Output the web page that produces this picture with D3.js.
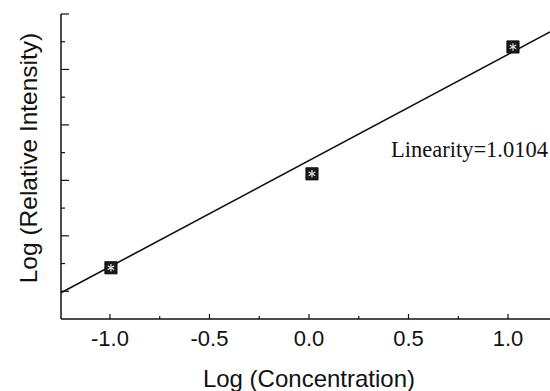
<!DOCTYPE html>
<html>
<head>
<meta charset="utf-8">
<script src="https://cdn.jsdelivr.net/npm/d3@7"></script>
<style>
  html, body { margin: 0; padding: 0; background: #fff; }
  svg { display: block; }
</style>
</head>
<body>
<script>
// ---- data ----
const pointX = [-0.995, 0.015, 1.025];        // Log (Concentration)
const pointY = [-0.288, 0.559, 1.703];        // Log (Relative Intensity)
const fitX = [-1.246, 1.211];                 // fitted line ends
const fitY = [-0.514, 1.838];
const xMajorTicks = [-1.0, -0.5, 0.0, 0.5, 1.0];
const xTickLabels = ["-1.0", "-0.5", "0.0", "0.5", "1.0"];
const xMinorTicks = [-0.75, -0.25, 0.25, 0.75];
const yMajorTicks = [-0.5, 0.0, 0.5, 1.0, 1.5, 2.0];
const yMinorTicks = [-0.25, 0.25, 0.75, 1.25, 1.75];
const annotation = "Linearity=1.0104";
const xTitle = "Log (Concentration)";
const yTitle = "Log (Relative Intensity)";

const W = 550, H = 391;
const svg = d3.select("body").append("svg").attr("width", W).attr("height", H);

const x = d3.scaleLinear().domain([-1.246, 1.211]).range([61, 550]);
const y = d3.scaleLinear().domain([-0.75, 2.0]).range([319, 14]);

const ink = "#111";

// axes lines
svg.append("line").attr("x1", x.range()[0]).attr("x2", x.range()[0])
  .attr("y1", y.range()[0]).attr("y2", y.range()[1])
  .attr("stroke", ink).attr("stroke-width", 1.5);
svg.append("line").attr("x1", x.range()[0]).attr("x2", x.range()[1])
  .attr("y1", y.range()[0]).attr("y2", y.range()[0])
  .attr("stroke", ink).attr("stroke-width", 1.5);

// x ticks (inward, up)
svg.append("g").selectAll("line").data(xMajorTicks).join("line")
  .attr("x1", d => x(d)).attr("x2", d => x(d))
  .attr("y1", y.range()[0]).attr("y2", y.range()[0] - 5)
  .attr("stroke", ink).attr("stroke-width", 1.2);
svg.append("g").selectAll("line").data(xMinorTicks).join("line")
  .attr("x1", d => x(d)).attr("x2", d => x(d))
  .attr("y1", y.range()[0]).attr("y2", y.range()[0] - 3)
  .attr("stroke", ink).attr("stroke-width", 1.2);
svg.append("g").selectAll("text").data(xMajorTicks).join("text")
  .attr("x", d => x(d)).attr("y", 346)
  .attr("text-anchor", "middle")
  .attr("font-family", "'Liberation Sans', Arial, sans-serif")
  .attr("font-size", 22).attr("fill", ink)
  .text((d, i) => xTickLabels[i]);

// y ticks (inward, right)
svg.append("g").selectAll("line").data(yMajorTicks).join("line")
  .attr("x1", x.range()[0]).attr("x2", x.range()[0] + 8)
  .attr("y1", d => y(d)).attr("y2", d => y(d))
  .attr("stroke", ink).attr("stroke-width", 1.2);
svg.append("g").selectAll("line").data(yMinorTicks).join("line")
  .attr("x1", x.range()[0]).attr("x2", x.range()[0] + 4)
  .attr("y1", d => y(d)).attr("y2", d => y(d))
  .attr("stroke", ink).attr("stroke-width", 1.2);

// fit line
svg.append("path")
  .datum(fitX.map((v, i) => [v, fitY[i]]))
  .attr("d", d3.line().x(d => x(d[0])).y(d => y(d[1])))
  .attr("fill", "none").attr("stroke", ink).attr("stroke-width", 1.6);

// markers
const pts = pointX.map((v, i) => [v, pointY[i]]);
const mk = svg.append("g").selectAll("g").data(pts).join("g")
  .attr("transform", d => `translate(${x(d[0])},${y(d[1])})`);
mk.append("path").attr("d", d3.symbol(d3.symbolSquare, 150)())
  .attr("fill", "#1a1a1a").attr("stroke", "#000").attr("stroke-width", 0.8);
mk.append("path").attr("d", d3.symbol(d3.symbolAsterisk, 40)())
  .attr("fill", "none").attr("stroke", "#ddd").attr("stroke-width", 1.2);

// annotation
svg.append("text").attr("x", 548).attr("y", 157)
  .attr("text-anchor", "end")
  .attr("font-family", "'Liberation Serif', 'Times New Roman', serif")
  .attr("font-size", 22.5).attr("fill", ink)
  .text(annotation);

// titles
svg.append("text").attr("x", x(0)).attr("y", 387)
  .attr("text-anchor", "middle")
  .attr("font-family", "'Liberation Sans', Arial, sans-serif")
  .attr("font-size", 24).attr("fill", ink)
  .text(xTitle);
svg.append("text")
  .attr("transform", `translate(37,158) rotate(-90)`)
  .attr("text-anchor", "middle")
  .attr("font-family", "'Liberation Sans', Arial, sans-serif")
  .attr("font-size", 24.5).attr("fill", ink)
  .text(yTitle);
</script>
</body>
</html>
